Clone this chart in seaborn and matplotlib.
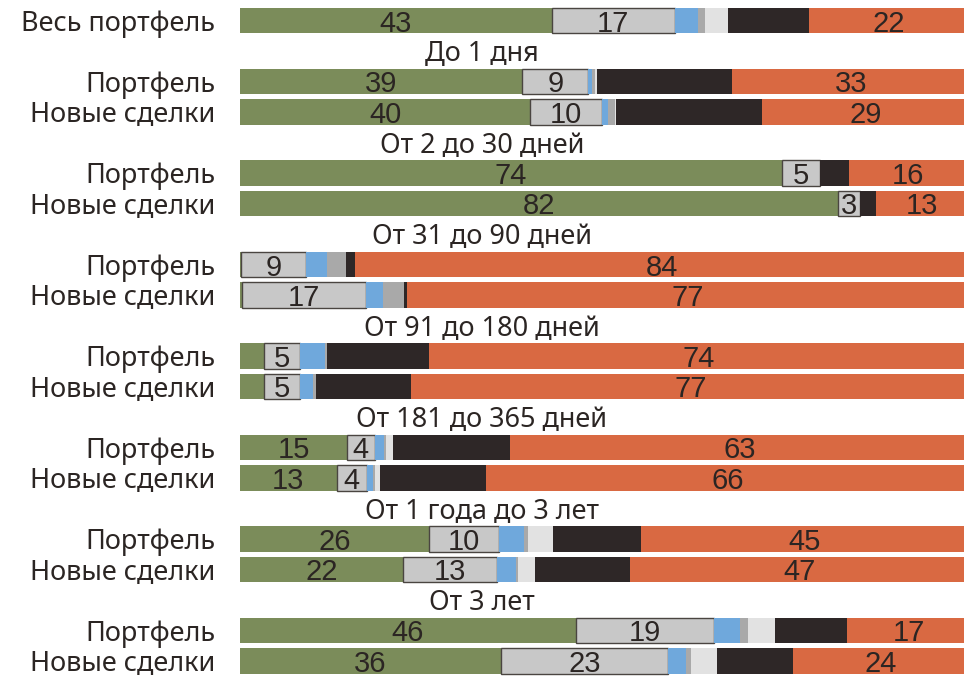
import numpy as np
import pandas as pd
import matplotlib
matplotlib.use("Agg")
import matplotlib.pyplot as plt
import matplotlib.transforms as mtransforms
import seaborn as sns

# ===============================
# ДАННЫЕ
# ===============================
row_names = ["Весь портфель",
             "Портфель", "Новые сделки",
             "Портфель", "Новые сделки",
             "Портфель", "Новые сделки",
             "Портфель", "Новые сделки",
             "Портфель", "Новые сделки",
             "Портфель", "Новые сделки",
             "Портфель", "Новые сделки"]
group_names = ["До 1 дня", "От 2 до 30 дней", "От 31 до 90 дней",
               "От 91 до 180 дней", "От 181 до 365 дней",
               "От 1 года до 3 лет", "От 3 лет"]

green  = [42.8, 38.8, 39.9, 74.4, 82.2, 0.2, 0.3, 3.3, 3.3, 14.7, 13.3, 26.0, 22.4, 46.1, 35.8]
lgray  = [16.9, 9.0, 9.8, 5.3, 3.0, 8.8, 17.0, 5.0, 5.0, 3.8, 4.1, 9.6, 12.9, 19.0, 23.0]
blue   = [3.2, 0.5, 0.8, 0.0, 0.0, 3.0, 2.3, 3.4, 1.7, 1.3, 0.9, 3.4, 2.6, 3.6, 2.4]
gray   = [1.0, 0.5, 1.0, 0.0, 0.0, 2.6, 2.9, 0.3, 0.4, 0.3, 0.3, 0.5, 0.3, 1.1, 0.7]
vlgray = [3.1, 0.3, 0.2, 0.0, 0.0, 0.0, 0.0, 0.0, 0.0, 0.9, 0.6, 3.5, 2.3, 3.7, 3.6]
black  = [11.1, 18.5, 20.0, 3.9, 2.1, 1.2, 0.5, 14.0, 13.1, 16.1, 14.6, 12.1, 13.1, 9.9, 10.4]
orange = [22.0, 32.6, 28.6, 16.3, 12.7, 84.2, 77.0, 74.0, 76.7, 63.0, 66.4, 45.0, 46.6, 16.9, 24.3]

segments = [
    ("green", green, "#7b8c5a"),
    ("lgray", lgray, "#c8c8c8"),
    ("blue", blue, "#6fa8dc"),
    ("gray", gray, "#a9a9a9"),
    ("vlgray", vlgray, "#e2e2e2"),
    ("black", black, "#2e2727"),
    ("orange", orange, "#d96942"),
]
min_label = {"green": 10, "lgray": 2.5, "orange": 10}

# ===============================
# РАСКЛАДКА: слоты по вертикали (заголовки групп занимают свой слот)
# ===============================
bar_pos = [0]
header_pos = []
slot = 1
for g in group_names:
    header_pos.append(slot)
    bar_pos += [slot + 1, slot + 2]
    slot += 3

text_color = "#2b2523"
label_font = ["Noto Sans", "DejaVu Sans"]
num_font = ["Liberation Sans Narrow", "Liberation Sans", "DejaVu Sans"]

sns.set_style("white")
plt.rcParams["font.family"] = label_font

fig = plt.figure(figsize=(9.64, 6.78), dpi=100)
ax = fig.add_axes([240 / 964, 0, 728 / 964, 1])

left = np.zeros(len(row_names))
for name, vals, col in segments:
    df = pd.DataFrame({"pos": bar_pos, "value": vals, "left": left})
    is_box = name == "lgray"
    sns.barplot(data=df, x="value", y="pos", orient="y", native_scale=True,
                width=0.82, color=col, saturation=1, errorbar=None,
                left=df["left"].to_numpy(),
                edgecolor="#4a4541" if is_box else "none",
                linewidth=1.0 if is_box else 0, ax=ax)
    if name in min_label:
        for p, l, v in zip(bar_pos, left, vals):
            if v >= min_label[name]:
                ax.text(l + v / 2, p, f"{round(v)}", ha="center",
                        va="center_baseline", fontsize=21,
                        family=num_font, color=text_color)
    left = left + np.array(vals)

# заголовки групп по центру рисунка
trans = mtransforms.blended_transform_factory(fig.transFigure, ax.transData)
for g, p in zip(group_names, header_pos):
    ax.text(0.5, p, g, transform=trans, ha="center", va="center_baseline",
            fontsize=19.5, color=text_color)

ax.set_xlim(0, 100)
ax.set_ylim((678 - 20.5) / 30.5, -20.5 / 30.5)
ax.set_yticks(bar_pos)
ax.set_yticklabels(row_names, fontsize=19.5, color=text_color)
ax.tick_params(axis="y", length=0, pad=18)
ax.set_xticks([])
ax.set_xlabel("")
ax.set_ylabel("")
sns.despine(ax=ax, left=True, bottom=True)

fig.savefig("out.png", dpi=100)
plt.close(fig)
